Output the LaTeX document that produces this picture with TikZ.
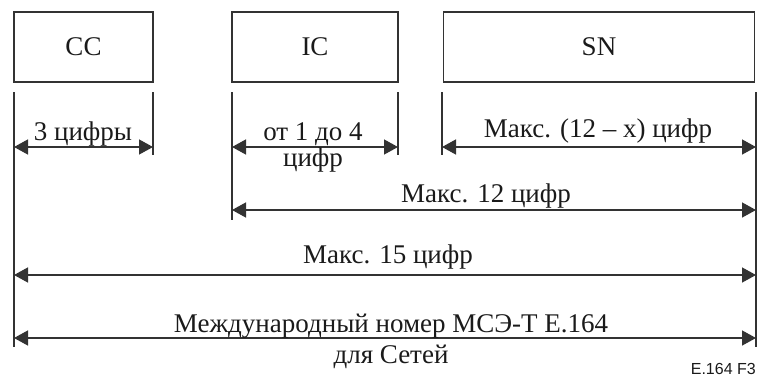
\documentclass[tikz,border=0pt]{standalone}
\usepackage{fontspec}
\setmainfont{Liberation Serif}
\newfontfamily\labsans{Liberation Sans}
\usetikzlibrary{arrows.meta}
\definecolor{ln}{HTML}{333333}
\definecolor{tx}{HTML}{1A1A1A}
\begin{document}
\begin{tikzpicture}[x=1pt,y=-1pt,
  box/.style={draw=ln,line width=1.4pt,minimum height=70pt,inner sep=0pt,font=\fontsize{27}{30}\selectfont,text=tx},
  lab/.style={inner sep=0pt,anchor=base,font=\fontsize{27}{30}\selectfont,text=tx},
  tick/.style={draw=ln,line width=1.4pt},
  dim/.style={draw=ln,line width=1.4pt,{Triangle[length=14pt,width=15pt]}-{Triangle[length=14pt,width=15pt]}}]
\useasboundingbox (0,0) rectangle (758,378);
% boxes
\node[box,minimum width=139pt] (cc) at (83.5,47) {CC};
\node[box,minimum width=166pt] (ic) at (315,47) {IC};
\node[box,minimum width=311pt] (sn) at (599,47) {SN};
% tick coordinates
\coordinate (a1) at (14,92);  \coordinate (a2) at (14,347);
\coordinate (b1) at (153,92); \coordinate (b2) at (153,155);
\coordinate (c1) at (232,92); \coordinate (c2) at (232,220);
\coordinate (d1) at (398,92); \coordinate (d2) at (398,155);
\coordinate (e1) at (442,92); \coordinate (e2) at (442,155);
\coordinate (f1) at (756,92); \coordinate (f2) at (756,347);
\draw[tick] (a1) -- (a2);
\draw[tick] (b1) -- (b2);
\draw[tick] (c1) -- (c2);
\draw[tick] (d1) -- (d2);
\draw[tick] (e1) -- (e2);
\draw[tick] (f1) -- (f2);
% arrows
\draw[dim] (a1 |- 0,147) coordinate (r1a) -- (b1 |- 0,147) coordinate (r1b);
\draw[dim] (c1 |- 0,147) coordinate (r2a) -- (d1 |- 0,147) coordinate (r2b);
\draw[dim] (e1 |- 0,147) coordinate (r3a) -- (f1 |- 0,147) coordinate (r3b);
\draw[dim] (c1 |- 0,210) coordinate (r4a) -- (f1 |- 0,210) coordinate (r4b);
\draw[dim] (a1 |- 0,275) coordinate (r5a) -- (f1 |- 0,275) coordinate (r5b);
\draw[dim] (a1 |- 0,338) coordinate (r6a) -- (f1 |- 0,338) coordinate (r6b);
% labels
\node[lab] (l1) at (83,140) {3 цифры};
\node[lab] (l2) at (313,140) {от 1 до 4};
\node[lab] (l2b) at (313,166) {цифр};
\node[lab] (l3) at (598,137) {Макс. (12 – x) цифр};
\node[lab] (l4) at (486,202) {Макс. 12 цифр};
\node[lab] (l5) at (388,263) {Макс. 15 цифр};
\node[lab] (l6) at (391,332) {Международный номер МСЭ-Т Е.164};
\node[lab] (l6b) at (391,363) {для Сетей};
\node[inner sep=0pt,anchor=base east,font=\labsans\fontsize{16}{18}\selectfont,text=tx] (fig) at (756,374) {E.164 F3};
\end{tikzpicture}
\end{document}
